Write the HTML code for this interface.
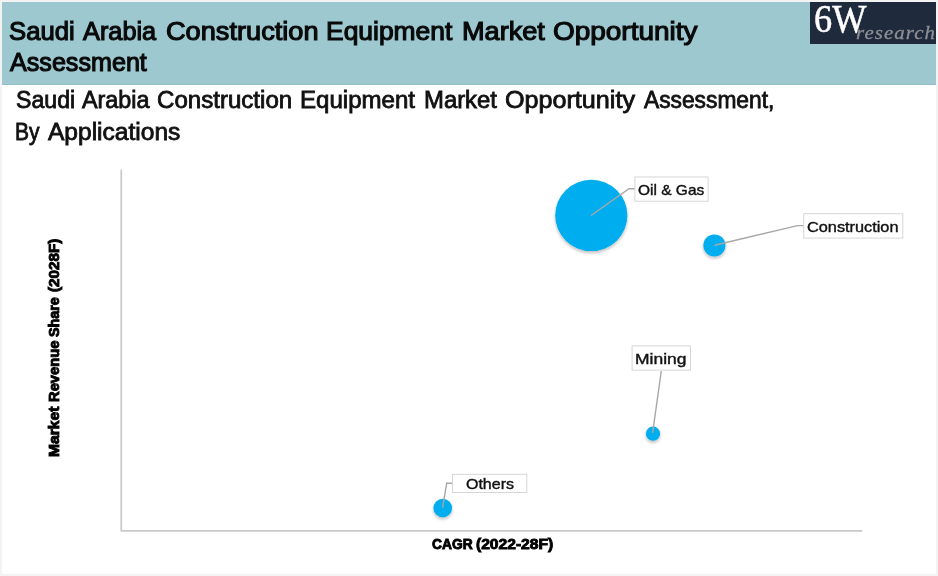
<!DOCTYPE html>
<html lang="en">
<head>
<meta charset="utf-8">
<title>Saudi Arabia Construction Equipment Market Opportunity Assessment</title>
<style>
  html, body { margin: 0; padding: 0; }
  body {
    width: 938px; height: 576px; overflow: hidden; position: relative;
    background: #f3f3f3;
    font-family: "Liberation Sans", sans-serif; color: #111;
  }
  .page { position: absolute; left: 2px; top: 2px; width: 934px; height: 572px; background: #fff; }
  .band { position: absolute; left: 2px; top: 2px; width: 934px; height: 83px; background: #9dc8d0; border-bottom: 1px solid #93c1ca; box-sizing: border-box; }
  .words span { position: absolute; white-space: nowrap; line-height: 1; transform-origin: 0 0; display: block; }
  .title span { font-size: 25px; color: #0a0a0a; -webkit-text-stroke: 1.1px #0a0a0a; }
  .sub span { font-size: 23px; color: #111; -webkit-text-stroke: 0.8px #111; }
  .lt span { font-size: 15px; color: #111; -webkit-text-stroke: 0.4px #111; }
  .axt span { font-size: 14.7px; font-weight: bold; color: #000; -webkit-text-stroke: 0.9px #000; }
  .logo { position: absolute; left: 810px; top: 2px; width: 125.8px; height: 41.9px; background: #1f2a3c; overflow: hidden; }
  .logo .big { position: absolute; left: 3.5px; top: -1.9px; font-family: "Liberation Serif", serif; font-size: 39.5px; color: #fff; -webkit-text-stroke: 0.5px #fff; line-height: 1; white-space: nowrap; transform-origin: 0 0; transform: scaleX(0.92); }
  .logo .small { position: absolute; left: 45.8px; top: 21.4px; -webkit-text-stroke: 0.3px #8d8f94; font-family: "Liberation Serif", serif; font-style: italic; font-size: 19.5px; letter-spacing: 1px; color: #8d8f94; line-height: 1; white-space: nowrap; transform-origin: 0 0; transform: scaleX(1.07); }
  svg.lead { position: absolute; left: 0; top: 0; width: 938px; height: 576px; pointer-events: none; }
</style>
</head>
<body>
<div class="page"></div>
<div class="band"></div>

<div class="words title">
  <span style="left:9.4px;top:18.5px;transform:scaleX(1.027)">Saudi</span>
  <span style="left:83.2px;top:18.5px;transform:scaleX(1.013)">Arabia</span>
  <span style="left:165.7px;top:18.5px;transform:scaleX(1.087)">Construction</span>
  <span style="left:326.4px;top:18.5px;transform:scaleX(1.057)">Equipment</span>
  <span style="left:461.9px;top:18.5px;transform:scaleX(1.085)">Market</span>
  <span style="left:552.9px;top:18.5px;transform:scaleX(1.118)">Opportunity</span>
  <span style="left:10.2px;top:49.6px;transform:scaleX(1.005)">Assessment</span>
</div>

<div class="logo"><span class="big">6W</span><span class="small">research</span></div>

<div class="words sub">
  <span style="left:15.7px;top:88.7px;transform:scaleX(1.005)">Saudi</span>
  <span style="left:82.0px;top:88.7px;transform:scaleX(1.016)">Arabia</span>
  <span style="left:157.4px;top:88.7px;transform:scaleX(1.047)">Construction</span>
  <span style="left:300.3px;top:88.7px;transform:scaleX(1.046)">Equipment</span>
  <span style="left:424.1px;top:88.7px;transform:scaleX(1.038)">Market</span>
  <span style="left:505.2px;top:88.7px;transform:scaleX(1.093)">Opportunity</span>
  <span style="left:643.7px;top:88.7px;transform:scaleX(0.990)">Assessment,</span>
  <span style="left:15.4px;top:120.8px;transform:scaleX(0.914)">By</span>
  <span style="left:48.4px;top:120.8px;transform:scaleX(1.067)">Applications</span>
</div>


<svg class="lead" viewBox="0 0 938 576">
  <defs>
    <filter id="sh" x="-30%" y="-30%" width="160%" height="170%">
      <feDropShadow dx="0" dy="1.8" stdDeviation="1.6" flood-color="#1c1412" flood-opacity="0.3"/>
    </filter>
  </defs>
  <g fill="#00adee" filter="url(#sh)">
    <ellipse cx="591.3" cy="215.4" rx="36.1" ry="35.7"/>
    <circle cx="714.4" cy="245.4" r="11"/>
    <circle cx="653" cy="433.7" r="7.15"/>
    <circle cx="442.75" cy="508" r="9.3"/>
  </g>
  <polyline points="121.25,169.5 121.25,530.95 862.2,530.95" fill="none" stroke="#c9c9c9" stroke-width="1.7" stroke-linejoin="round"/>
  <g fill="none" stroke="#a8a8a8" stroke-width="1.4">
    <polyline points="591,215.5 629,188.7 635,188.7"/>
    <polyline points="714.6,245.2 797.5,225.6 804,225.6"/>
    <polyline points="652.6,432.8 661.3,371"/>
    <polyline points="442.6,507.6 446.7,483.2 453,483.2"/>
  </g>
  <g fill="#fff" stroke="#d6d6d6" stroke-width="1">
    <rect x="634.9" y="177" width="73.2" height="24.2"/>
    <rect x="803.7" y="213.7" width="99.1" height="24.4"/>
    <rect x="632.1" y="345.9" width="58.4" height="24.2"/>
    <rect x="452.5" y="474.3" width="74.3" height="18.2"/>
  </g>
</svg>

<div class="words lt">
  <span style="left:638.3px;top:182.0px;transform:scaleX(1.032)">Oil &amp; Gas</span>
  <span style="left:806.9px;top:219.2px;transform:scaleX(1.086)">Construction</span>
  <span style="left:635.0px;top:351.2px;transform:scaleX(1.164)">Mining</span>
  <span style="left:465.6px;top:476.1px;transform:scaleX(1.065)">Others</span>
</div>

<div class="words axt">
  <span style="left:431.6px;top:536.9px;transform:scaleX(0.940)">CAGR</span>
  <span style="left:476.1px;top:536.9px;transform:scaleX(1.062)">(2022-28F)</span>
</div>
<div class="words axt" style="position:absolute; left:46.9px; top:456.1px; width:0; height:0; transform: rotate(-90deg); transform-origin: 0 0;">
  <span style="left:-1.0px;top:0.0px;transform:scaleX(1.067)">Market</span>
  <span style="left:54.1px;top:0.0px;transform:scaleX(1.003)">Revenue</span>
  <span style="left:119.2px;top:0.0px;transform:scaleX(0.974)">Share</span>
  <span style="left:163.7px;top:0.0px;transform:scaleX(1.035)">(2028F)</span>
</div>

</body>
</html>
